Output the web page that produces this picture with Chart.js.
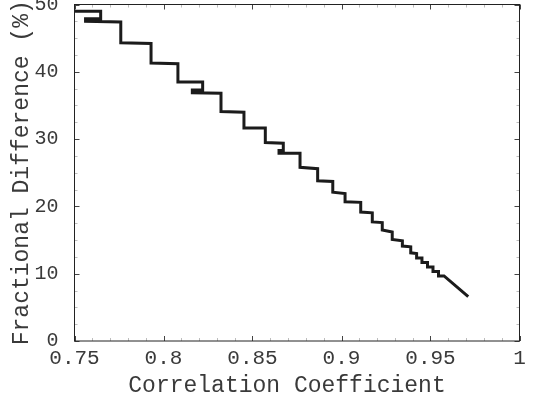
<!DOCTYPE html>
<html>
<head>
<meta charset="utf-8">
<script src="https://cdn.jsdelivr.net/npm/chart.js@4.4.1/dist/chart.umd.min.js"></script>
<style>
    html, body { margin: 0; padding: 0; background: #fff; }
</style>
</head>
<body>
<canvas id="chart" width="541" height="409"></canvas>
<script>
// step curve (in drawing order, incl. the small back-steps)
var corrCoeff = [0.7503, 0.7647, 0.7647, 0.7562, 0.7562, 0.7760, 0.7760, 0.7930, 0.7930, 0.8081,
    0.8081, 0.8220, 0.8220, 0.8162, 0.8162, 0.8323, 0.8323, 0.8452, 0.8452, 0.8572,
    0.8572, 0.8673, 0.8673, 0.8649, 0.8649, 0.8767, 0.8767, 0.8866, 0.8866, 0.8951,
    0.8951, 0.9020, 0.9020, 0.9108, 0.9108, 0.9173, 0.9173, 0.9229, 0.9229, 0.9285,
    0.9285, 0.9342, 0.9342, 0.9389, 0.9389, 0.9422, 0.9422, 0.9452, 0.9452, 0.9483,
    0.9483, 0.9514, 0.9514, 0.9545, 0.9545, 0.9576, 0.9712];
var fracDiff = [49.0, 49.0, 47.9, 47.9, 47.5, 47.4, 44.3, 44.2, 41.3, 41.2,
    38.5, 38.5, 37.3, 37.3, 36.9, 36.8, 34.1, 34.0, 31.65, 31.65,
    29.5, 29.4, 28.3, 28.3, 27.9, 27.9, 25.8, 25.6, 23.8, 23.7,
    22.1, 21.9, 20.7, 20.6, 19.15, 19.05, 17.7, 17.6, 16.5, 16.2,
    15.1, 14.9, 14.1, 14.0, 13.1, 13.0, 12.35, 12.35, 11.68, 11.68,
    11.01, 11.01, 10.34, 10.34, 9.67, 9.67, 6.59];

var xTicks = [0.75, 0.8, 0.85, 0.9, 0.95, 1];
var xTickLabels = ['0.75', '0.8', '0.85', '0.9', '0.95', '1'];
var yTicks = [0, 10, 20, 30, 40, 50];
var yTickLabels = ['0', '10', '20', '30', '40', '50'];

var xTitle = 'Correlation Coefficient';
var yTitle = 'Fractional Difference (%)';

var points = [];
for (var i = 0; i < corrCoeff.length; i++) {
    points.push({x: corrCoeff[i], y: fracDiff[i]});
}

var monoFont = "'Liberation Mono', 'Courier New', monospace";
var textColor = '#3a3a3a';

// matlab style box with inward ticks on all four sides
var boxTicks = {
    id: 'boxTicks',
    afterDraw: function (chart) {
        var ctx = chart.ctx;
        var a = chart.chartArea;
        var xs = chart.scales.x, ys = chart.scales.y;
        ctx.save();
        // minor ticks
        ctx.strokeStyle = '#bdbdbd';
        ctx.lineWidth = 1;
        ctx.beginPath();
        for (var k = 1; k < 25; k++) {
            if (k % 5 === 0) continue;
            var px = Math.round(xs.getPixelForValue(0.75 + k * 0.01)) + 0.5;
            ctx.moveTo(px, a.bottom); ctx.lineTo(px, a.bottom - 3);
            ctx.moveTo(px, a.top); ctx.lineTo(px, a.top + 3);
        }
        for (var m = 1; m < 20; m++) {
            if (m % 4 === 0) continue;
            var py = Math.round(ys.getPixelForValue(m * 2.5)) + 0.5;
            ctx.moveTo(a.left, py); ctx.lineTo(a.left + 3, py);
            ctx.moveTo(a.right, py); ctx.lineTo(a.right - 3, py);
        }
        ctx.stroke();
        // major ticks
        ctx.strokeStyle = '#444444';
        ctx.beginPath();
        xTicks.forEach(function (v) {
            var px = Math.round(xs.getPixelForValue(v)) + 0.5;
            ctx.moveTo(px, a.bottom); ctx.lineTo(px, a.bottom - 5);
            ctx.moveTo(px, a.top); ctx.lineTo(px, a.top + 5);
        });
        yTicks.forEach(function (v) {
            var py = Math.round(ys.getPixelForValue(v)) + 0.5;
            ctx.moveTo(a.left, py); ctx.lineTo(a.left + 5, py);
            ctx.moveTo(a.right, py); ctx.lineTo(a.right - 5, py);
        });
        ctx.stroke();
        // box
        ctx.strokeStyle = '#222222';
        ctx.strokeRect(a.left, a.top, a.right - a.left, a.bottom - a.top);

        // x axis title, sits a little left of the plot centre in the original
        ctx.fillStyle = textColor;
        ctx.font = '23px ' + monoFont;
        ctx.textAlign = 'center';
        ctx.textBaseline = 'middle';
        ctx.fillText(xTitle, (a.left + a.right) / 2 - 10, 386);
        ctx.restore();
    }
};

var chart = new Chart(document.getElementById('chart'), {
    type: 'scatter',
    data: {
        datasets: [{
            data: points,
            showLine: true,
            borderColor: '#1b1b1b',
            borderWidth: 3,
            pointRadius: 0,
            tension: 0,
            borderJoinStyle: 'miter',
            borderCapStyle: 'butt'
        }]
    },
    options: {
        responsive: false,
        animation: false,
        devicePixelRatio: 1,
        layout: {
            padding: {left: 0, right: 21.5, top: 4.5, bottom: 0}
        },
        plugins: {
            legend: {display: false},
            tooltip: {enabled: false}
        },
        scales: {
            x: {
                type: 'linear',
                min: 0.75,
                max: 1,
                grid: {display: false},
                border: {display: false},
                afterBuildTicks: function (scale) {
                    scale.ticks = xTicks.map(function (v) { return {value: v}; });
                },
                afterFit: function (scale) {
                    scale.height = 68;
                    scale.paddingLeft = 0;
                    scale.paddingRight = 0;
                },
                ticks: {
                    autoSkip: false,
                    maxRotation: 0,
                    padding: -3,
                    color: textColor,
                    font: {family: monoFont, size: 21},
                    callback: function (val, index) { return xTickLabels[index]; }
                },
                title: {display: false}
            },
            y: {
                type: 'linear',
                min: 0,
                max: 50,
                grid: {display: false},
                border: {display: false},
                afterBuildTicks: function (scale) {
                    scale.ticks = yTicks.map(function (v) { return {value: v}; });
                },
                afterFit: function (scale) {
                    scale.width = 74.5;
                    scale.paddingTop = 0;
                    scale.paddingBottom = 0;
                },
                ticks: {
                    autoSkip: false,
                    padding: 8,
                    color: textColor,
                    font: {family: monoFont, size: 20},
                    callback: function (val, index) { return yTickLabels[index]; }
                },
                title: {
                    display: true,
                    text: yTitle,
                    color: textColor,
                    font: {family: monoFont, size: 23},
                    padding: {top: 8, bottom: 0}
                }
            }
        }
    },
    plugins: [boxTicks]
});
</script>
</body>
</html>
